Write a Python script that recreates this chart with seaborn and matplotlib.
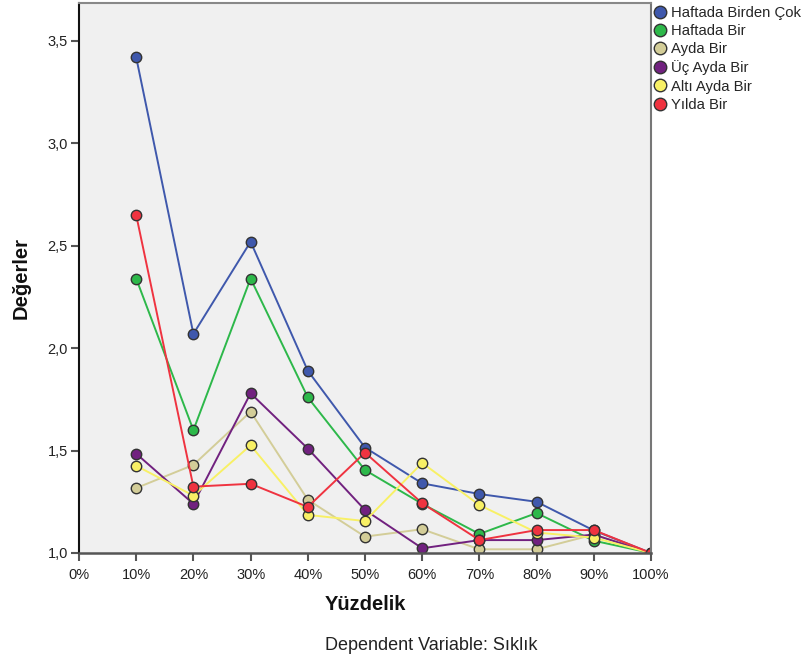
import numpy as np
import pandas as pd
import seaborn as sns
import matplotlib.pyplot as plt
from matplotlib.lines import Line2D
from matplotlib.ticker import FuncFormatter

percentiles = [10, 20, 30, 40, 50, 60, 70, 80, 90, 100]

haftada_birden_cok = [3.42, 2.07, 2.52, 1.89, 1.515, 1.34, 1.288, 1.25, 1.11, 1.0]
haftada_bir = [2.34, 1.60, 2.34, 1.76, 1.405, 1.24, 1.093, 1.195, 1.06, 1.0]
ayda_bir = [1.317, 1.43, 1.69, 1.26, 1.08, 1.116, 1.018, 1.018, 1.09, 1.0]
uc_ayda_bir = [1.485, 1.24, 1.78, 1.51, 1.21, 1.023, 1.063, 1.063, 1.09, 1.0]
alti_ayda_bir = [1.426, 1.28, 1.526, 1.186, 1.156, 1.44, 1.234, 1.10, 1.075, 1.0]
yilda_bir = [2.65, 1.324, 1.338, 1.225, 1.49, 1.243, 1.063, 1.112, 1.112, 1.0]

series_names = ["Haftada Birden Çok", "Haftada Bir", "Ayda Bir",
                "Üç Ayda Bir", "Altı Ayda Bir", "Yılda Bir"]
series_values = [haftada_birden_cok, haftada_bir, ayda_bir,
                 uc_ayda_bir, alti_ayda_bir, yilda_bir]
colors = ["#3F58AC", "#2DB84A", "#D3CD98", "#71217F", "#F8F065", "#EF3340"]

rows = []
for name, vals in zip(series_names, series_values):
    for p, v in zip(percentiles, vals):
        rows.append({"Yüzdelik": p, "Değerler": v, "Grup": name})
df = pd.DataFrame(rows)

sns.set_theme(style="white")
plt.rcParams["font.family"] = ["Liberation Sans", "DejaVu Sans"]

fig = plt.figure(figsize=(8.05, 6.62), dpi=100)
ax = fig.add_axes([79 / 805, 109 / 662, 572 / 805, 550.5 / 662])
ax.set_facecolor("#F0F0F0")

palette = dict(zip(series_names, colors))
sns.lineplot(data=df, x="Yüzdelik", y="Değerler", hue="Grup",
             hue_order=series_names, palette=palette, marker="o",
             markersize=7.5, markeredgecolor="#333333", markeredgewidth=1.0,
             linewidth=1.4, legend=False, ax=ax)

ax.set_xlim(0, 100)
ax.set_ylim(1.0, 1.0 + 550.5 / 204.8)
ax.set_xticks(np.arange(0, 101, 10))
ax.xaxis.set_major_formatter(FuncFormatter(lambda v, _: f"{int(v)}%"))
ax.set_yticks([1.0, 1.5, 2.0, 2.5, 3.0, 3.5])
ax.yaxis.set_major_formatter(FuncFormatter(lambda v, _: f"{v:.1f}".replace(".", ",")))
ax.tick_params(axis="both", direction="out", length=6, width=1.5,
               color="#555555", labelsize=10.5, labelcolor="#222222",
               left=True, bottom=True)
ax.tick_params(axis="x", pad=5)
ax.tick_params(axis="y", pad=2)

ax.spines["left"].set_color("#111111")
ax.spines["left"].set_linewidth(1.5)
ax.spines["bottom"].set_color("#555555")
ax.spines["bottom"].set_linewidth(1.8)
ax.spines["right"].set_color("#777777")
ax.spines["right"].set_linewidth(1.5)
ax.spines["top"].set_color("#888888")
ax.spines["top"].set_linewidth(1.5)

ax.set_xlabel("Yüzdelik", fontsize=14.5, fontweight="bold", labelpad=9.5,
              color="#111111")
ax.set_ylabel("Değerler", fontsize=14.5, fontweight="bold", labelpad=12,
              color="#111111")

handles = [Line2D([0], [0], marker="o", linestyle="none", markersize=9,
                  markerfacecolor=c, markeredgecolor="#333333",
                  markeredgewidth=1.0) for c in colors]
ax.legend(handles, series_names, loc="upper left",
          bbox_to_anchor=(1.0, 1.0 - 2 / 550.5),
          frameon=False, fontsize=10.7, handletextpad=0.25, borderaxespad=0.1,
          handlelength=1.0, labelspacing=0.28, borderpad=0.0)

fig.text(431 / 805, 1 - 645 / 662, "Dependent Variable: Sıklık",
         ha="center", va="center", fontsize=13, color="#222222")

fig.savefig("out.png", dpi=100, facecolor="white")
